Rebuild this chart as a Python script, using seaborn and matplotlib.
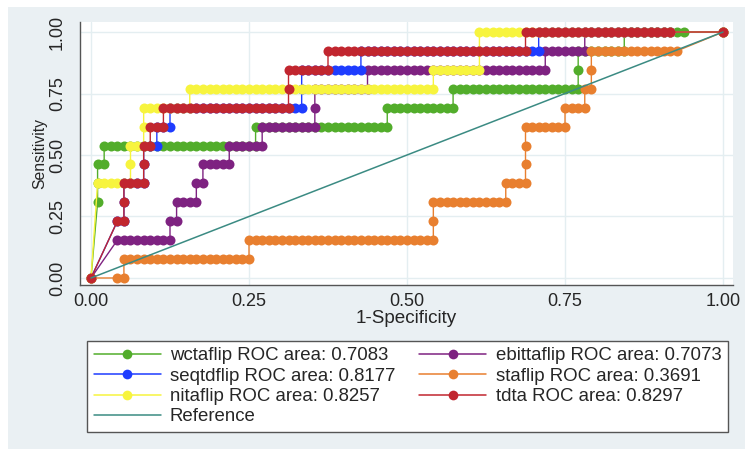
import numpy as np
import pandas as pd
import matplotlib
matplotlib.use('Agg')
import matplotlib.pyplot as plt
from matplotlib.lines import Line2D
from matplotlib.patches import Rectangle
import seaborn as sns

N_NEG = 96
N_POS = 13

# ROC runs: (true positives, first false positive, last false positive)
wctaflip = [(0, 0, 0), (4, 1, 1), (5, 1, 1), (6, 1, 2), (7, 2, 25), (8, 25, 45), (9, 45, 55),
            (10, 55, 74), (11, 74, 74), (12, 74, 81), (13, 81, 90), (13, 96, 96)]
ebittaflip = [(0, 0, 0), (2, 4, 12), (3, 12, 13), (4, 13, 16), (5, 16, 17), (6, 17, 21), (7, 21, 26),
              (8, 26, 34), (9, 34, 34), (10, 34, 42), (11, 42, 69), (12, 69, 75), (13, 75, 88), (13, 96, 96)]
seqtdflip = [(0, 0, 0), (3, 4, 5), (4, 5, 5), (5, 5, 8), (6, 8, 8), (7, 8, 10), (8, 10, 12), (9, 12, 32),
             (10, 32, 32), (11, 32, 41), (12, 41, 68), (13, 68, 88), (13, 96, 96)]
staflip = [(0, 0, 0), (0, 4, 5), (1, 5, 24), (2, 24, 52), (3, 52, 52), (4, 52, 63), (5, 63, 66),
           (6, 66, 66), (7, 66, 66), (8, 66, 72), (9, 72, 75), (10, 75, 76), (11, 76, 76), (12, 76, 89),
           (13, 96, 96)]
nitaflip = [(0, 0, 0), (5, 1, 6), (6, 6, 6), (7, 6, 8), (8, 8, 8), (9, 8, 15), (10, 15, 52),
            (11, 52, 59), (12, 59, 59), (13, 59, 88), (13, 96, 96)]
tdta = [(0, 0, 0), (3, 4, 5), (4, 5, 5), (5, 5, 8), (6, 8, 8), (7, 8, 9), (8, 9, 11), (9, 11, 30),
        (10, 30, 30), (11, 30, 36), (12, 36, 66), (13, 66, 88), (13, 96, 96)]

models = ['wctaflip', 'ebittaflip', 'seqtdflip', 'staflip', 'nitaflip', 'tdta']
runs = [wctaflip, ebittaflip, seqtdflip, staflip, nitaflip, tdta]
areas = ['0.7083', '0.7073', '0.8177', '0.3691', '0.8257', '0.8297']
colors = {'wctaflip': '#52ad2b', 'ebittaflip': '#7e2281', 'seqtdflip': '#1e3cff',
          'staflip': '#e87f2f', 'nitaflip': '#f7f43e', 'tdta': '#c1262f'}
ref_color = '#3b8b83'

# expand the runs into one row per cutoff point
rows = []
for name, r in zip(models, runs):
    for tp, a, b in r:
        for fp in range(a, b + 1):
            rows.append({'model': name, 'fpr': fp / N_NEG, 'tpr': tp / N_POS})
df = pd.DataFrame(rows)

sns.set_style('white')
plt.rcParams['font.family'] = ['Liberation Sans', 'DejaVu Sans']

fig = plt.figure(figsize=(7.45, 4.49), dpi=100)
fig.patch.set_facecolor('white')
fig.patches.append(Rectangle((8 / 745, 0), 1, 1 - 7 / 449, transform=fig.transFigure,
                             facecolor='#eaf0f3', edgecolor='none', zorder=-5))
ax = fig.add_axes([80 / 745, (449 - 285) / 449, 653 / 745, 263 / 449])
ax.set_facecolor('white')

for name in models:
    sns.lineplot(data=df[df['model'] == name], x='fpr', y='tpr', ax=ax, color=colors[name],
                 estimator=None, sort=False, marker='o', markersize=7.2, markeredgewidth=0,
                 linewidth=1.0, legend=False)
sns.lineplot(x=[0, 1], y=[0, 1], ax=ax, color=ref_color, linewidth=1.1, legend=False)

ax.set_xlim(-0.0174, 1.0158)
ax.set_ylim(-0.0285, 1.0407)
ticks = [0, 0.25, 0.5, 0.75, 1]
ax.set_xticks(ticks)
ax.set_yticks(ticks)
ax.set_xticklabels(['%.2f' % t for t in ticks], fontsize=13)
ax.set_yticklabels(['%.2f' % t for t in ticks], fontsize=13, rotation=90, va='center')
ax.grid(True, color='#e4eef1', linewidth=1)
ax.set_axisbelow(True)
ax.tick_params(axis='both', direction='out', length=4, width=1, color='#444444')
ax.tick_params(axis='x', pad=2)
ax.tick_params(axis='y', pad=6)
for s in ['top', 'right']:
    ax.spines[s].set_visible(False)
for s in ['left', 'bottom']:
    ax.spines[s].set_color('#555555')
    ax.spines[s].set_linewidth(1)
ax.set_xlabel('1-Specificity', fontsize=13.6, labelpad=0)
ax.set_ylabel('Sensitivity', fontsize=11.3, labelpad=1)

handles = {name: Line2D([], [], color=colors[name], marker='o', markersize=7, markeredgewidth=0,
                        linewidth=1.1) for name in models}
labels = {name: '%s ROC area: %s' % (name, a) for name, a in zip(models, areas)}
order = ['wctaflip', 'seqtdflip', 'nitaflip', None, 'ebittaflip', 'staflip', 'tdta']
hs, ls = [], []
for name in order:
    if name is None:
        hs.append(Line2D([], [], color=ref_color, linewidth=1.1))
        ls.append('Reference')
    else:
        hs.append(handles[name])
        ls.append(labels[name])
leg = fig.legend(hs, ls, ncol=2, loc='lower left', mode='expand',
                 bbox_to_anchor=(87 / 745, (449 - 432) / 449, 641 / 745, 94 / 449),
                 fontsize=13.4, frameon=True, fancybox=False, framealpha=1, handlelength=3.6,
                 labelspacing=0.18, borderaxespad=0, handletextpad=0.5, borderpad=0.35)
leg.get_frame().set_edgecolor('#555555')
leg.get_frame().set_linewidth(1)

fig.savefig('out.png', dpi=100, facecolor=fig.get_facecolor())
